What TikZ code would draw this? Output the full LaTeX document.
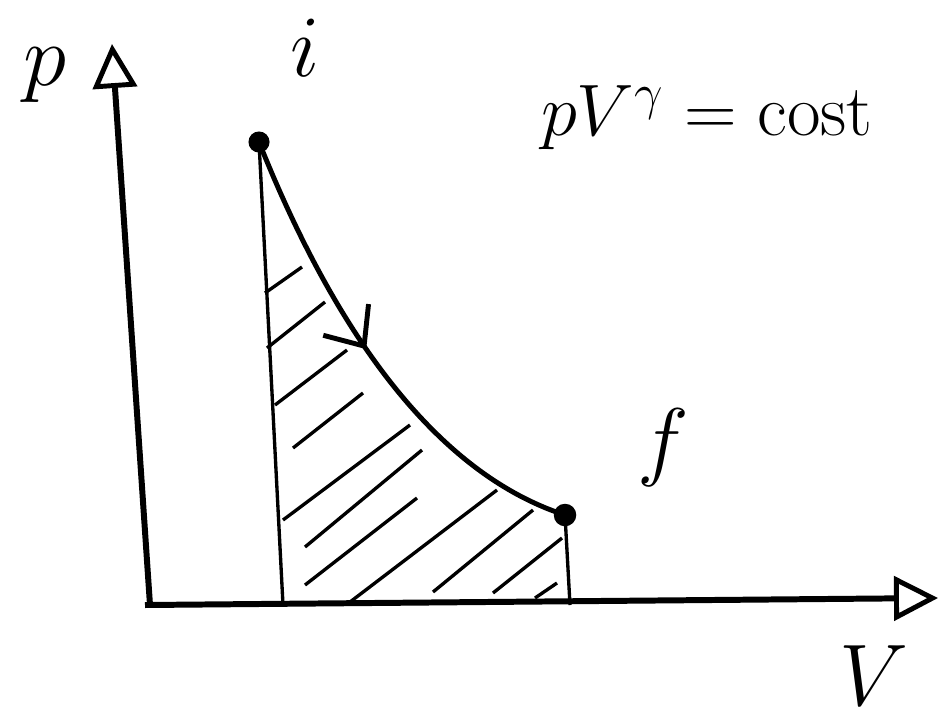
\documentclass[tikz,border=0pt]{standalone}
\usepackage{amsmath}
\usepackage{tikz}
\usetikzlibrary{arrows.meta, decorations.markings}

\begin{document}
\begin{tikzpicture}[x=0.01cm, y=-0.01cm,
  axis/.style={line width=1.7pt, -{Triangle[open, length=4.4mm, width=4.4mm, line width=1.4pt]}},
  thin/.style={line width=0.95pt},
  hand/.style={font=\fontsize{24}{28}\selectfont}]
\useasboundingbox (0,0) rectangle (940,727);
\coordinate (O) at (150,605);
\coordinate (ptop) at (112,44);
\coordinate (vend) at (938,598);
\coordinate (i) at (259,142);
\coordinate (f) at (565,515);
\coordinate (ib) at (283,605);
\coordinate (fb) at (570,605);
% axes
\draw[axis] (O) -- (ptop);
\draw[axis] (145,605) -- (vend);
% verticals under the end points
\draw[thin] (i) -- (ib);
\draw[thin] (f) -- (fb);
% hatching of the work
\foreach \xa/\ya/\xb/\yb in {265/293/302/267, 267/348/325/302, 275/405/347/350,
  293/448/363/393, 283/520/410/425, 305/547/422/450, 305/585/417/498,
  350/602/497/490, 433/592/533/510, 493/593/562/538, 535/598/557/583}{
  \draw[thin] (\xa,\ya) -- (\xb,\yb);
}
% adiabatic
\draw[line width=1.4pt, postaction={decorate}, decoration={markings,
  mark=at position 0.47 with {\arrow[line width=1.4pt]{Straight Barb[length=3.2mm, width=5.5mm]}}}]
  (i) .. controls (322,300) and (420,468) .. (f);
\fill (i) circle (3pt);
\fill (f) circle (3.2pt);
\node[hand] (plab) at (45,75) {$p$};
\node[hand] (ilab) at (305,48) {$i$};
\node[hand, font=\fontsize{21}{25}\selectfont] (law) at (707,118) {$pV^{\gamma} = \mathrm{cost}$};
\node[hand] (flab) at (663,448) {$f$};
\node[hand, inner sep=0pt] (Vlab) at (874,676) {$V$};
\end{tikzpicture}
\end{document}
